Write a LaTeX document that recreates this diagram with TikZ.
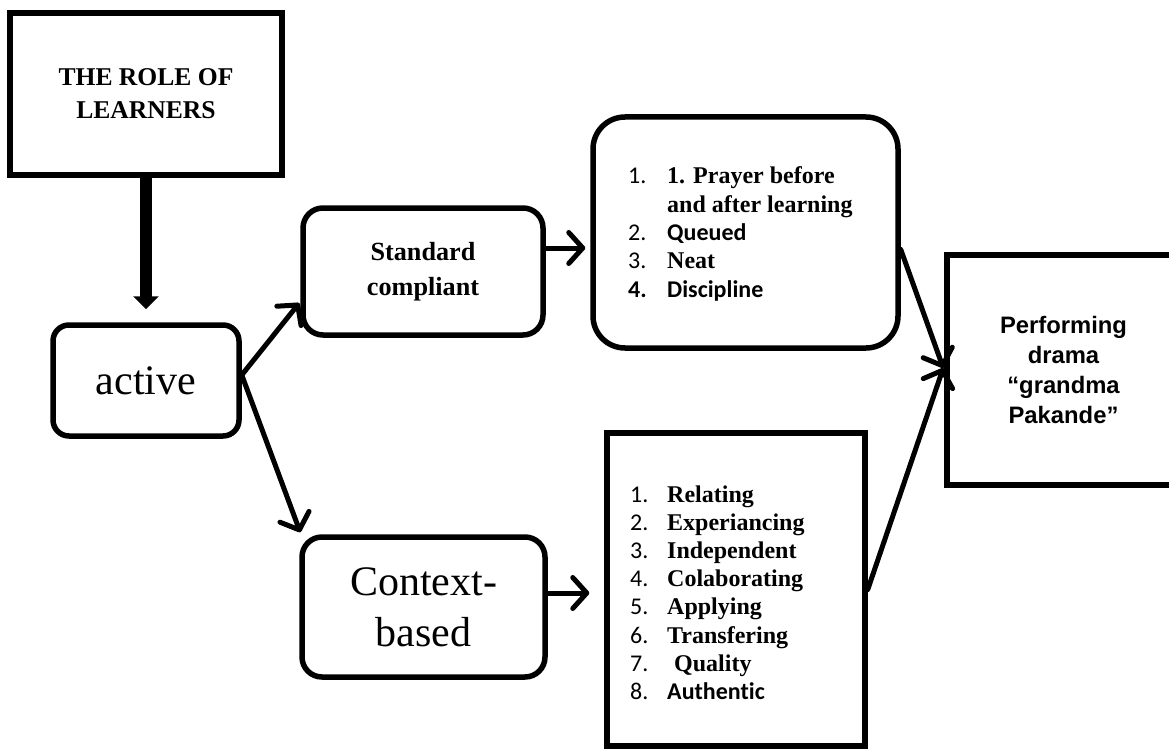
\documentclass[tikz,border=0pt]{standalone}
\usepackage{fontspec}
\setmainfont{Liberation Serif}
\newfontfamily\arialf{Liberation Sans}
\newfontfamily\calfont[Ligatures=NoCommon]{Carlito}
\usetikzlibrary{arrows.meta}
\begin{document}
\begin{tikzpicture}[x=1pt,y=-1pt,
  box/.style={draw,line width=5.5pt,inner sep=0pt,minimum width=#1},
  rbox/.style={box=#1,rounded corners=16pt},
  arr/.style={line width=5pt,line cap=round,
    -{Straight Barb[length=14pt,width=31pt,line cap=round,line join=round]}},
  bigarr/.style={line width=12pt,-{Triangle[length=13pt,width=25pt]}},
  lst/.style={anchor=base west,inner sep=0pt,font=\fontsize{24}{28}\selectfont},
]
\useasboundingbox (0,0) rectangle (1169,749);

% title and first level
\node[box=272pt,minimum height=162pt,align=center,
      font=\bfseries\fontsize{25.6}{33}\selectfont] (title) at (146,94)
      {THE ROLE OF\\LEARNERS};
\node[rbox=186pt,minimum height=111pt,font=\fontsize{42}{50}\selectfont]
      (active) at (146,380.5) {active};

% second level
\node[rbox=240pt,minimum height=127pt,rounded corners=20pt,align=center,
      font=\bfseries\fontsize{26.2}{35}\selectfont] (std) at (423,271.5)
      {Standard\\compliant};
\node[rbox=243pt,minimum height=140pt,rounded corners=20pt,align=center,
      font=\fontsize{42}{51}\selectfont] (ctx) at (423.5,607)
      {Context-\\based};

% lists
\node[rbox=305pt,minimum height=231pt,rounded corners=32pt] (prayer) at (745.5,232.5) {};
\node[box=258pt,minimum height=313pt] (relate) at (736,589.5) {};

\node[lst] (p1) at (628,183) {\calfont\makebox[39pt][l]{1.}\rmfamily\bfseries 1. Prayer before};
\node[lst] (p1b) at (667,212) {\bfseries and after learning};
\node[lst] (p2) at (628,240) {\calfont\makebox[39pt][l]{2.}\bfseries Queued};
\node[lst] (p3) at (628,268) {\calfont\makebox[39pt][l]{3.}\rmfamily\bfseries Neat};
\node[lst] (p4) at (628,297) {\calfont\bfseries\makebox[39pt][l]{4.}Discipline};

\node[lst] (r1) at (630,502) {\calfont\makebox[37pt][l]{1.}\rmfamily\bfseries Relating};
\node[lst] (r2) at (630,530.2) {\calfont\makebox[37pt][l]{2.}\rmfamily\bfseries Experiancing};
\node[lst] (r3) at (630,558.4) {\calfont\makebox[37pt][l]{3.}\rmfamily\bfseries Independent};
\node[lst] (r4) at (630,586.6) {\calfont\makebox[37pt][l]{4.}\rmfamily\bfseries Colaborating};
\node[lst] (r5) at (630,614.8) {\calfont\makebox[37pt][l]{5.}\rmfamily\bfseries Applying};
\node[lst] (r6) at (630,643) {\calfont\makebox[37pt][l]{6.}\rmfamily\bfseries Transfering};
\node[lst] (r7) at (630,671.2) {\calfont\makebox[44pt][l]{7.}\rmfamily\bfseries Quality};
\node[lst] (r8) at (630,699.4) {\calfont\makebox[37pt][l]{8.}\bfseries Authentic};

% outcome
\node[box=233pt,minimum height=230pt,align=center,
      font=\arialf\bfseries\fontsize{23.8}{30}\selectfont] (perf) at (1063.5,370)
      {Performing\\drama\\ “grandma\\Pakande”};

% connectors
\draw[bigarr] (title.south) -- ([yshift=13pt]active.north);
\draw[arr] ([yshift=5.5pt]active.east) -- ([xshift=-1pt,yshift=-31.5pt]std.west);
\draw[arr] ([yshift=5.5pt]active.east) -- ([xshift=1pt,yshift=2pt]ctx.north west);
\draw[arr] ([yshift=23.5pt]std.east) -- ([xshift=-5pt,yshift=-15.5pt]prayer.west);
\draw[arr] ([yshift=14pt]ctx.east) -- ([xshift=-15pt,yshift=-3.5pt]relate.west);
\draw[arr] ([yshift=-17pt]prayer.east) -- ([xshift=-1pt,yshift=2pt]perf.west);
\draw[arr] (relate.east) -- ([xshift=-1pt,yshift=2pt]perf.west);
\end{tikzpicture}
\end{document}
